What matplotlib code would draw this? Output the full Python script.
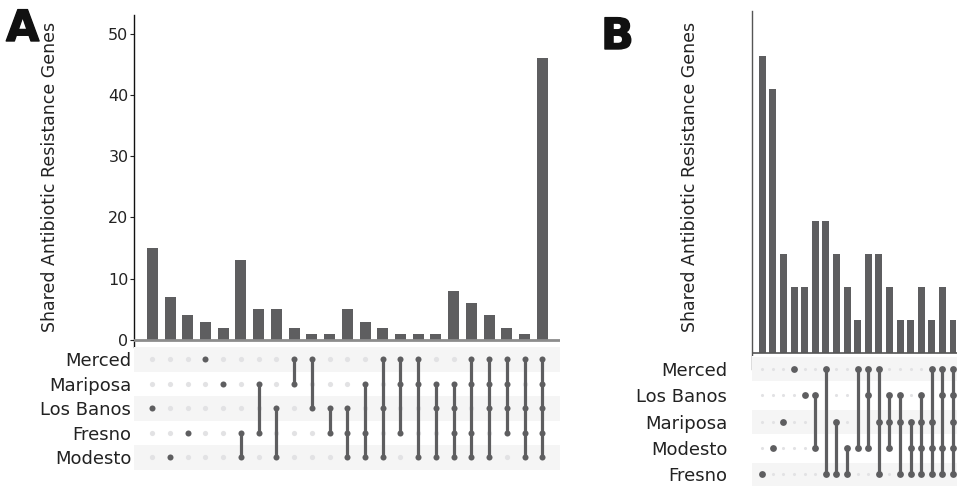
import matplotlib
matplotlib.use("Agg")
import matplotlib.pyplot as plt
import matplotlib.patheffects as pe

# ---------------- data ----------------
rows_a = ["Merced", "Mariposa", "Los Banos", "Fresno", "Modesto"]
sets_a = [
    ["Los Banos"], ["Modesto"], ["Fresno"], ["Merced"], ["Mariposa"],
    ["Fresno", "Modesto"], ["Mariposa", "Fresno"], ["Los Banos", "Modesto"],
    ["Merced", "Mariposa"], ["Merced", "Los Banos"], ["Los Banos", "Fresno"],
    ["Los Banos", "Fresno", "Modesto"], ["Mariposa", "Fresno", "Modesto"],
    ["Merced", "Los Banos", "Modesto"], ["Merced", "Mariposa", "Fresno"],
    ["Merced", "Mariposa", "Modesto"], ["Mariposa", "Los Banos", "Modesto"],
    ["Mariposa", "Los Banos", "Fresno", "Modesto"],
    ["Merced", "Mariposa", "Fresno", "Modesto"],
    ["Merced", "Mariposa", "Los Banos", "Modesto"],
    ["Merced", "Mariposa", "Los Banos", "Fresno"],
    ["Merced", "Los Banos", "Fresno", "Modesto"],
    ["Merced", "Mariposa", "Los Banos", "Fresno", "Modesto"],
]
counts_a = [15, 7, 4, 3, 2, 13, 5, 5, 2, 1, 1, 5, 3, 2, 1, 1, 1, 8, 6, 4, 2, 1, 46]
yticks_a = [0, 10, 20, 30, 40, 50]

rows_b = ["Merced", "Los Banos", "Mariposa", "Modesto", "Fresno"]
sets_b = [
    ["Fresno"], ["Modesto"], ["Mariposa"], ["Merced"], ["Los Banos"],
    ["Los Banos", "Modesto"], ["Merced", "Fresno"], ["Mariposa", "Fresno"],
    ["Modesto", "Fresno"], ["Merced", "Modesto"],
    ["Merced", "Los Banos", "Modesto"], ["Merced", "Mariposa", "Fresno"],
    ["Los Banos", "Mariposa", "Modesto"], ["Los Banos", "Mariposa", "Fresno"],
    ["Mariposa", "Modesto", "Fresno"],
    ["Los Banos", "Mariposa", "Modesto", "Fresno"],
    ["Merced", "Mariposa", "Modesto", "Fresno"],
    ["Merced", "Los Banos", "Modesto", "Fresno"],
    ["Merced", "Los Banos", "Mariposa", "Modesto", "Fresno"],
]
counts_b = [9, 8, 3, 2, 2, 4, 4, 3, 2, 1, 3, 3, 2, 1, 1, 2, 1, 2, 1]

ylabel = "Shared Antibiotic Resistance Genes"

# ---------------- style ----------------
W, H = 957, 491
DARK = "#5e5e60"
LIGHT = "#e2e2e4"
STRIPE = "#f5f5f5"
TXT = "#222222"
plt.rcParams["font.family"] = ["DejaVu Sans"]

fig = plt.figure(figsize=(W / 100, H / 100), dpi=100)


def ax_px(x0, y0, x1, y1):
    return fig.add_axes([x0 / W, 1 - y1 / H, (x1 - x0) / W, (y1 - y0) / H])


def draw_matrix(ax, rows, sets, xlim, dark_s, light_s, lw, band_h, pad):
    ax.set_xlim(*xlim)
    ax.set_ylim(len(rows) - 0.5, -0.5)
    for r in range(len(rows)):
        if r % 2 == 0:
            ax.axhspan(r - band_h / 2, r + band_h / 2, color=STRIPE, lw=0, zorder=0)
    for i, s in enumerate(sets):
        idx = [rows.index(name) for name in s]
        for r in range(len(rows)):
            if r not in idx:
                ax.scatter(i, r, s=light_s, color=LIGHT, lw=0, zorder=1)
        if len(idx) > 1:
            ax.plot([i, i], [min(idx), max(idx)], color=DARK, lw=lw,
                    solid_capstyle="butt", zorder=2)
        ax.scatter([i] * len(idx), idx, s=dark_s, color=DARK, lw=0, zorder=3)
    ax.set_yticks(range(len(rows)))
    ax.set_yticklabels(rows, fontsize=13, color=TXT)
    ax.tick_params(axis="y", length=0, pad=pad)
    ax.set_xticks([])
    for sp in ax.spines.values():
        sp.set_visible(False)


heavy = [pe.withStroke(linewidth=1.0, foreground="#111111")]

# ---------------- Panel A ----------------
xa0, xa1 = 134, 560
first_a, last_a = 152.3, 542.3
sp_a = (last_a - first_a) / (len(counts_a) - 1)
xlim_a = (-(first_a - xa0) / sp_a, len(counts_a) - 1 + (xa1 - last_a) / sp_a)

base_a, top_a, bot_a = 340, 15, 347
unit_a = (340 - 33.7) / 50
axA = ax_px(xa0, top_a, xa1, bot_a)
axA.bar(range(len(counts_a)), counts_a, width=0.62, color=DARK, zorder=2)
axA.set_xlim(*xlim_a)
axA.set_ylim(-(bot_a - base_a) / unit_a, (base_a - top_a) / unit_a)
axA.axhline(0, color="#8c8c8c", lw=2.0, zorder=3)
axA.set_yticks(yticks_a)
axA.tick_params(axis="y", labelsize=11.5, length=3, width=0.8, colors=TXT, pad=1)
axA.set_xticks([])
for k in ["top", "right", "bottom"]:
    axA.spines[k].set_visible(False)
axA.spines["left"].set_color("#111111")
axA.spines["left"].set_linewidth(1.0)
fig.text(50 / W, 1 - 177 / H, ylabel, rotation=90, ha="center", va="center",
         fontsize=12.5, color=TXT)
fig.text(6 / W, 1 - 41 / H, "A", fontsize=31, fontweight="heavy", color="#111111",
         ha="left", va="baseline", path_effects=heavy)

axAm = ax_px(xa0, 347, xa1, 469.6)
draw_matrix(axAm, rows_a, sets_a, xlim_a, dark_s=19, light_s=14, lw=2.3,
            band_h=1.0, pad=2)

# ---------------- Panel B ----------------
xb0, xb1 = 752.3, 1000
first_b, last_b = 762.3, 953
sp_b = (last_b - first_b) / (len(counts_b) - 1)
xlim_b = (-(first_b - xb0) / sp_b, (xb1 - first_b) / sp_b)

base_b, top_b, bot_b = 353, 11, 369
unit_b = 33.0
axB = ax_px(xb0, top_b, xb1, bot_b)
axB.bar(range(len(counts_b)), counts_b, width=0.66, color=DARK, zorder=2)
axB.set_xlim(*xlim_b)
axB.set_ylim(-(bot_b - base_b) / unit_b, (base_b - top_b) / unit_b)
axB.axhline(0, color="#555555", lw=1.2, zorder=3)
axB.set_yticks([])
axB.set_xticks([])
for k in ["top", "right", "bottom"]:
    axB.spines[k].set_visible(False)
axB.spines["left"].set_color("#555555")
axB.spines["left"].set_linewidth(1.0)
fig.text(690 / W, 1 - 177 / H, ylabel, rotation=90, ha="center", va="center",
         fontsize=12.5, color=TXT)
fig.text(601 / W, 1 - 49 / H, "B", fontsize=31, fontweight="heavy", color="#111111",
         ha="left", va="baseline", path_effects=heavy)

axBm = ax_px(xb0, 356, xb1, 487.5)
draw_matrix(axBm, rows_b, sets_b, xlim_b, dark_s=24, light_s=5, lw=2.3,
            band_h=0.9, pad=18)

fig.savefig("out.png", dpi=100)
